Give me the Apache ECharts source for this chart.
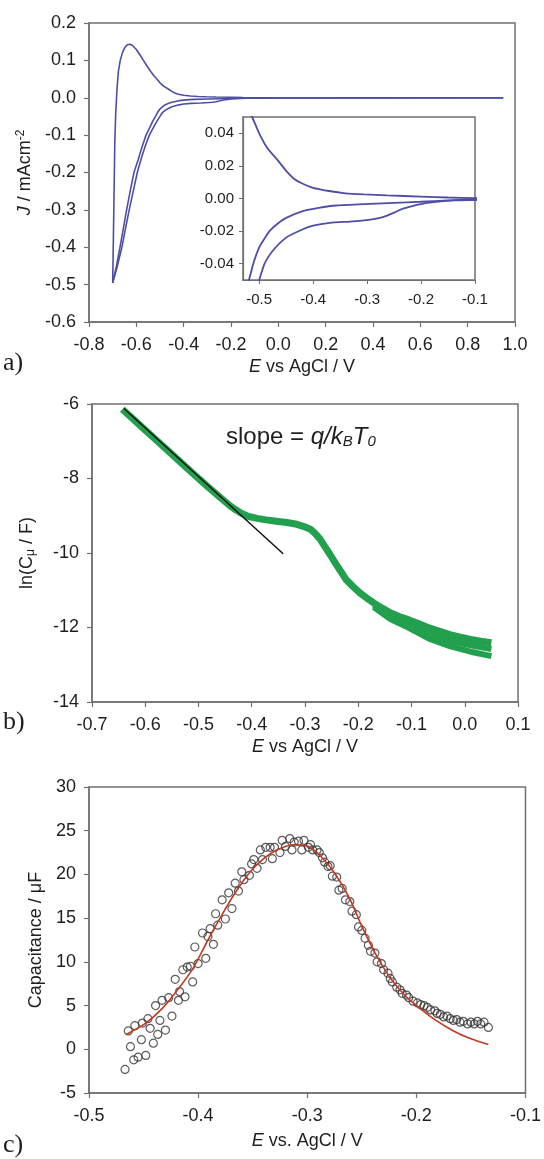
<!DOCTYPE html>
<html>
<head>
<meta charset="UTF-8">
<title>CV / capacitance</title>
<script src="https://cdn.jsdelivr.net/npm/echarts@6/dist/echarts.min.js"></script>
<style>
  html, body { margin: 0; padding: 0; background: #fff; }
  #main { width: 544px; height: 1159px; }
</style>
</head>
<body>
<div id="main"></div>
<script>
// ---- panel a: cyclic voltammogram [E, J] ----
var cvAnodic = [[-0.700,-0.495],[-0.697,-0.38],[-0.694,-0.25],[-0.691,-0.12],[-0.687,-0.04],[-0.682,0.02],[-0.676,0.07],[-0.668,0.10],[-0.658,0.122],[-0.647,0.136],[-0.637,0.142],[-0.627,0.143],[-0.615,0.139],[-0.600,0.129],[-0.585,0.115],[-0.570,0.100],[-0.555,0.085],[-0.540,0.071],[-0.525,0.058],[-0.513,0.050],[-0.500,0.040],[-0.485,0.031],[-0.467,0.024],[-0.450,0.017],[-0.435,0.012],[-0.422,0.0095],[-0.400,0.0065],[-0.371,0.0046],[-0.340,0.0032],[-0.306,0.0025],[-0.263,0.0019],[-0.200,0.0012],[-0.150,0.0006],[-0.100,0.0002],[0.0,0.0],[0.95,0.0]];
var cvCathodic1 = [[0.95,0],[0.0,-0.0002],[-0.098,-0.0004],[-0.150,-0.0012],[-0.201,-0.002],[-0.250,-0.0027],[-0.294,-0.0033],[-0.357,-0.0043],[-0.390,-0.0058],[-0.419,-0.0078],[-0.450,-0.0119],[-0.466,-0.0155],[-0.481,-0.020],[-0.491,-0.025],[-0.500,-0.030],[-0.510,-0.039],[-0.519,-0.050],[-0.530,-0.062],[-0.545,-0.082],[-0.559,-0.10],[-0.575,-0.13],[-0.592,-0.165],[-0.610,-0.20],[-0.626,-0.25],[-0.641,-0.30],[-0.655,-0.35],[-0.669,-0.40],[-0.684,-0.45],[-0.700,-0.495]];
var cvCathodic2 = [[0.95,0],[0.0,-0.0003],[-0.098,-0.001],[-0.138,-0.0012],[-0.188,-0.0027],[-0.200,-0.0034],[-0.213,-0.0043],[-0.225,-0.0055],[-0.238,-0.0068],[-0.250,-0.0087],[-0.263,-0.0105],[-0.278,-0.0120],[-0.294,-0.0129],[-0.326,-0.014],[-0.369,-0.015],[-0.400,-0.0167],[-0.420,-0.019],[-0.450,-0.024],[-0.476,-0.0325],[-0.490,-0.040],[-0.500,-0.050],[-0.512,-0.062],[-0.528,-0.080],[-0.545,-0.10],[-0.560,-0.125],[-0.578,-0.16],[-0.596,-0.20],[-0.613,-0.25],[-0.630,-0.30],[-0.646,-0.35],[-0.661,-0.40],[-0.680,-0.45],[-0.700,-0.495]];
var insetXTicks = [-0.5, -0.4, -0.3, -0.2, -0.1];
var insetYTicks = [-0.04, -0.02, 0, 0.02, 0.04];

// ---- panel b: ln(C) vs E ----
var lnE = [-0.643,-0.62,-0.60,-0.58,-0.56,-0.54,-0.52,-0.50,-0.48,-0.46,-0.44,-0.43,-0.42,-0.406,-0.39,-0.373,-0.354,-0.334,-0.318,-0.302,-0.29,-0.282,-0.272,-0.263,-0.253,-0.243,-0.233,-0.223,-0.21,-0.197,-0.184,-0.171,-0.155,-0.139,-0.122,-0.106,-0.086,-0.067,-0.047,-0.028,-0.008,0.011,0.03,0.05];
var lnC = [-6.14,-6.44,-6.70,-6.96,-7.22,-7.48,-7.74,-8.00,-8.25,-8.50,-8.74,-8.84,-8.93,-9.02,-9.07,-9.11,-9.15,-9.18,-9.22,-9.29,-9.36,-9.46,-9.62,-9.82,-10.04,-10.27,-10.49,-10.71,-10.90,-11.07,-11.21,-11.34,-11.48,-11.61,-11.71,-11.79,-11.90,-12.01,-12.10,-12.19,-12.26,-12.32,-12.37,-12.41];
var lnTailE = [-0.171,-0.139,-0.106,-0.067,-0.028,0.011,0.05];
var lnTailMid = [-11.40,-11.70,-11.90,-12.15,-12.35,-12.48,-12.58];
var lnTailLow = [-11.45,-11.78,-12.00,-12.30,-12.50,-12.65,-12.77];
var fitLineE = [-0.640, -0.341];
var fitLineC = [-6.12, -10.02];

// ---- panel c: capacitance vs E ----
var capE = [-0.467,-0.464,-0.462,-0.458,-0.459,-0.455,-0.452,-0.451,-0.448,-0.446,-0.444,-0.441,-0.439,-0.437,-0.435,-0.433,-0.430,-0.427,-0.424,-0.421,-0.418,-0.417,-0.414,-0.412,-0.410,-0.407,-0.405,-0.403,-0.400,-0.396,-0.393,-0.391,-0.389,-0.386,-0.384,-0.382,-0.378,-0.375,-0.372,-0.369,-0.366,-0.363,-0.360,-0.358,-0.353,-0.351,-0.349,-0.346,-0.343,-0.341,-0.338,-0.334,-0.332,-0.330,-0.325,-0.323,-0.320,-0.316,-0.314,-0.312,-0.308,-0.305,-0.303,-0.299,-0.297,-0.295,-0.291,-0.289,-0.286,-0.284,-0.281,-0.279,-0.277,-0.273,-0.271,-0.268,-0.265,-0.261,-0.259,-0.255,-0.253,-0.250,-0.247,-0.244,-0.242,-0.238,-0.236,-0.232,-0.230,-0.226,-0.224,-0.222,-0.218,-0.215,-0.213,-0.209,-0.207,-0.203,-0.199,-0.196,-0.193,-0.190,-0.187,-0.183,-0.181,-0.178,-0.175,-0.172,-0.169,-0.166,-0.163,-0.160,-0.157,-0.153,-0.150,-0.147,-0.144,-0.141,-0.138,-0.134];
var capC = [-2.3,2.1,0.3,2.7,-1.2,-0.9,1.1,3.0,-0.7,3.5,2.4,0.7,5.0,1.7,3.3,5.6,2.2,5.9,3.8,8.0,5.6,6.6,9.1,6.0,9.4,9.5,7.7,11.7,9.8,13.3,10.4,12.9,13.8,12.0,15.5,14.2,17.1,14.9,17.9,16.1,19.0,18.1,20.3,19.4,19.9,21.2,21.7,20.7,22.8,21.7,23.1,23.1,21.8,23.1,22.5,23.9,23.2,24.1,22.8,23.7,23.8,22.8,23.9,23.1,23.4,22.8,22.8,22.5,21.9,21.4,20.9,21.0,19.8,19.7,18.2,18.4,17.1,16.9,15.8,15.4,14.0,13.6,12.7,11.9,11.2,11.0,10.0,9.8,9.1,8.7,8.1,7.7,7.1,6.8,6.4,6.2,5.9,5.5,5.3,5.1,5.0,4.8,4.5,4.4,4.1,4.0,3.7,3.8,3.5,3.3,3.4,3.1,3.2,2.9,3.1,2.9,3.2,2.9,3.1,2.5];
var fitE = [-0.466,-0.449,-0.433,-0.417,-0.404,-0.391,-0.379,-0.366,-0.353,-0.341,-0.328,-0.312,-0.299,-0.287,-0.274,-0.261,-0.249,-0.236,-0.223,-0.210,-0.198,-0.182,-0.166,-0.150,-0.134];
var fitC = [1.7,2.9,4.65,7.1,9.4,12.5,15.2,17.9,20.2,21.7,22.8,23.4,23.2,22.0,20.0,17.2,13.8,10.6,8.0,6.1,4.8,3.3,2.1,1.2,0.55];

function pairs(xs, ys) {
    var out = [];
    for (var i = 0; i < xs.length; i++) out.push([xs[i], ys[i]]);
    return out;
}

var FONT = 'Liberation Sans, Arial, sans-serif';
var SERIF = '"Liberation Serif", "Times New Roman", serif';
var frame = '#707070';
var txt = '#1e1e1e';
var blue = '#4d4ea6';
var green = '#22a04e';
var FS = 18; // tick labels and axis titles

function fmt(d) {
    return function (v) { return (Math.abs(v) < 1e-9 ? 0 : v).toFixed(d); };
}

function xAxisOf(idx, min, max, step, dec, nameRich, gap) {
    return {
        type: 'value', gridIndex: idx, min: min, max: max, interval: step,
        axisLine: { onZero: false, lineStyle: { color: frame, width: 1.5 } },
        axisTick: { length: 5, lineStyle: { color: frame, width: 1.2 } },
        splitLine: { show: false },
        axisLabel: { color: txt, fontSize: FS, fontFamily: FONT, margin: 14, formatter: fmt(dec) },
        name: nameRich, nameLocation: 'middle', nameGap: gap,
        nameTextStyle: {
            color: txt, fontSize: FS, fontFamily: FONT,
            rich: { i: { fontStyle: 'italic', fontSize: FS, fontFamily: FONT, color: txt } }
        }
    };
}

function yAxisOf(idx, min, max, step, dec, nameRich, gap, rich) {
    return {
        type: 'value', gridIndex: idx, min: min, max: max, interval: step,
        axisLine: { onZero: false, lineStyle: { color: frame, width: 1.5 } },
        axisTick: { length: 5, lineStyle: { color: frame, width: 1.2 } },
        splitLine: { show: false },
        axisLabel: { color: txt, fontSize: FS, fontFamily: FONT, margin: 13, formatter: fmt(dec) },
        name: nameRich, nameLocation: 'middle', nameGap: gap, nameRotate: 90,
        nameTextStyle: { color: txt, fontSize: FS, fontFamily: FONT, rich: rich }
    };
}

var myChart = echarts.init(document.getElementById('main'), null, { renderer: 'canvas' });

var option = {
    animation: false,
    backgroundColor: '#fff',
    grid: [
        { left: 89, top: 23, width: 426, height: 299, show: true, borderColor: frame, borderWidth: 1.5, backgroundColor: 'transparent' },
        { left: 243, top: 117, width: 232, height: 163, show: true, borderColor: frame, borderWidth: 1.5, backgroundColor: '#fff', z: 5 },
        { left: 92, top: 404, width: 426, height: 298, show: true, borderColor: frame, borderWidth: 1.5 },
        { left: 89, top: 787, width: 437, height: 306, show: true, borderColor: frame, borderWidth: 1.5 }
    ],
    xAxis: [
        xAxisOf(0, -0.8, 1.0, 0.2, 1, '{i|E} vs AgCl / V', 36),
        {
            type: 'value', gridIndex: 1, min: -0.53, max: -0.1, z: 6,
            axisLine: { onZero: false, lineStyle: { color: frame, width: 1.2 } },
            axisTick: { length: 4, customValues: insetXTicks, lineStyle: { color: frame } },
            splitLine: { show: false },
            axisLabel: { color: txt, fontSize: 15, fontFamily: FONT, margin: 12, customValues: insetXTicks, formatter: fmt(1) }
        },
        xAxisOf(2, -0.7, 0.1, 0.1, 1, '{i|E} vs AgCl / V', 36),
        xAxisOf(3, -0.5, -0.1, 0.1, 1, '{i|E} vs. AgCl / V', 39)
    ],
    yAxis: [
        yAxisOf(0, -0.6, 0.2, 0.1, 1, '{i|J} / mAcm{sup|-2}', 53, {
            i: { fontStyle: 'italic', fontSize: FS, fontFamily: FONT, color: txt },
            sup: { fontSize: 12, fontFamily: FONT, color: txt, verticalAlign: 'top', padding: [0, 0, 9, 0] }
        }),
        {
            type: 'value', gridIndex: 1, min: -0.05, max: 0.05, z: 6,
            axisLine: { onZero: false, lineStyle: { color: frame, width: 1.2 } },
            axisTick: { length: 4, customValues: insetYTicks, lineStyle: { color: frame } },
            splitLine: { show: false },
            axisLabel: { color: txt, fontSize: 15, fontFamily: FONT, margin: 9, customValues: insetYTicks, formatter: fmt(2) }
        },
        yAxisOf(2, -14, -6, 2, 0, 'ln(C{sub|μ} / F)', 55, {
            sub: { fontSize: 12, fontFamily: FONT, color: txt, verticalAlign: 'bottom', padding: [7, 0, 0, 0] }
        }),
        yAxisOf(3, -5, 30, 5, 0, 'Capacitance / μF', 43, {})
    ],
    graphic: [
        { type: 'text', left: 3, top: 350, style: { text: 'a)', font: '26px ' + SERIF, fill: txt } },
        { type: 'text', left: 3, top: 709, style: { text: 'b)', font: '26px ' + SERIF, fill: txt } },
        { type: 'text', left: 3, top: 1132, style: { text: 'c)', font: '26px ' + SERIF, fill: txt } },
        {
            type: 'text', left: 226, top: 425, z: 10,
            style: {
                text: 'slope = {i|q/k}{s|B}{i|T}{s|0}',
                font: '24px ' + FONT, fill: txt,
                rich: {
                    i: { fontStyle: 'italic', fontSize: 24, fontFamily: FONT, fill: txt },
                    s: { fontStyle: 'italic', fontSize: 15, fontFamily: FONT, fill: txt, verticalAlign: 'bottom', padding: [9, 0, 0, 0] }
                }
            }
        }
    ],
    series: [
        // panel a main
        { type: 'line', xAxisIndex: 0, yAxisIndex: 0, data: cvAnodic, showSymbol: false, lineStyle: { color: blue, width: 1.6 } },
        { type: 'line', xAxisIndex: 0, yAxisIndex: 0, data: cvCathodic1, showSymbol: false, lineStyle: { color: blue, width: 1.6 } },
        { type: 'line', xAxisIndex: 0, yAxisIndex: 0, data: cvCathodic2, showSymbol: false, lineStyle: { color: blue, width: 1.6 } },
        // panel a inset
        { type: 'line', xAxisIndex: 1, yAxisIndex: 1, data: cvAnodic, showSymbol: false, clip: true, z: 7, smooth: 0.2, lineStyle: { color: blue, width: 1.8 } },
        { type: 'line', xAxisIndex: 1, yAxisIndex: 1, data: cvCathodic1, showSymbol: false, clip: true, z: 7, smooth: 0.2, lineStyle: { color: blue, width: 1.8 } },
        { type: 'line', xAxisIndex: 1, yAxisIndex: 1, data: cvCathodic2, showSymbol: false, clip: true, z: 7, smooth: 0.2, lineStyle: { color: blue, width: 1.8 } },
        // panel b
        { type: 'line', xAxisIndex: 2, yAxisIndex: 2, data: pairs(lnE, lnC), showSymbol: false, lineStyle: { color: green, width: 7 } },
        { type: 'line', xAxisIndex: 2, yAxisIndex: 2, data: pairs(lnTailE, lnTailMid), showSymbol: false, lineStyle: { color: green, width: 6 } },
        { type: 'line', xAxisIndex: 2, yAxisIndex: 2, data: pairs(lnTailE, lnTailLow), showSymbol: false, lineStyle: { color: green, width: 6 } },
        { type: 'line', xAxisIndex: 2, yAxisIndex: 2, data: pairs(fitLineE, fitLineC), showSymbol: false, z: 4, lineStyle: { color: '#111', width: 1.5 } },
        // panel c
        { type: 'scatter', xAxisIndex: 3, yAxisIndex: 3, data: pairs(capE, capC), symbol: 'circle', symbolSize: 8,
          itemStyle: { color: 'rgba(255,255,255,0)', borderColor: '#333', borderWidth: 1.2 } },
        { type: 'line', xAxisIndex: 3, yAxisIndex: 3, data: pairs(fitE, fitC), showSymbol: false, smooth: 0.3, z: 4, lineStyle: { color: '#c23a22', width: 1.6 } }
    ]
};

myChart.setOption(option);
</script>
</body>
</html>
